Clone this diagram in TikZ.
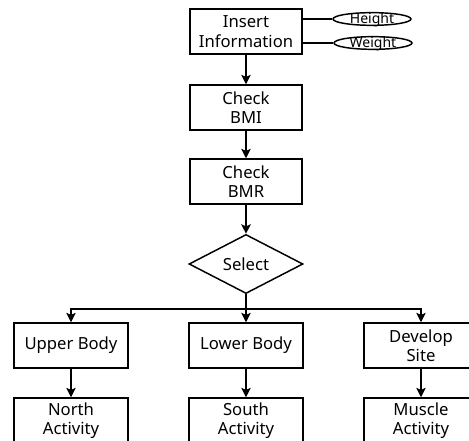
\documentclass[tikz,border=0pt]{standalone}
\usepackage{fontspec}
\setmainfont{Noto Sans}
\usepackage{tikz}
\usetikzlibrary{shapes.geometric,arrows.meta}

\tikzset{
  procbox/.style={draw,line width=1.1pt,minimum width=84pt,minimum height=33.75pt,inner sep=1pt,align=center,font=\fontsize{12.5}{14.5}\selectfont},
  selbox/.style={draw,diamond,line width=1.1pt,minimum width=85.5pt,minimum height=44.25pt,inner sep=0pt,font=\fontsize{12.5}{14.5}\selectfont},
  attrib/.style={draw,ellipse,line width=1.1pt,minimum width=58.5pt,minimum height=9.5pt,inner xsep=0pt,inner ysep=-1pt,text height=7.5pt,text depth=0pt,font=\fontsize{10.5}{11}\selectfont},
  flow/.style={line width=1.3pt,-{Stealth[length=7pt,width=7pt,inset=1.5pt]}}
}

\begin{document}
\begin{tikzpicture}[x=0.75pt,y=0.75pt,yscale=-1,xscale=1]
\useasboundingbox (0,0) rectangle (469,441);
\clip (0,0) rectangle (469,441);

% Main column
\node[procbox] (ins) at (246,31.5) {Insert\\Information};
\node[procbox] (bmi) at (246,107.5) {Check\\BMI};
\node[procbox] (bmr) at (246,181.5) {Check\\BMR};
\node[selbox] (sel) at (246,264) {Select};

% Inputs
\node[attrib] (hgt) at (372,19) {Height};
\node[attrib] (wgt) at (373,43) {Weight};

% Branches
\node[procbox,minimum width=85.5pt] (upper) at (71,345.5) {Upper Body};
\node[procbox,minimum width=85.5pt] (lower) at (246,345.5) {Lower Body};
\node[procbox,minimum width=85.5pt] (devel) at (421,345.5) {Develop\\Site};
\node[procbox,minimum width=85.5pt] (north) at (71,420.5) {North\\Activity};
\node[procbox,minimum width=85.5pt] (south) at (246,420.5) {South\\Activity};
\node[procbox,minimum width=85.5pt] (muscle) at (421,420.5) {Muscle\\Activity};
\coordinate (fork) at (246,309);

% Connectors
\draw[line width=1.3pt] (hgt.west -| ins.east) -- (hgt.west);
\draw[line width=1.3pt] (wgt.west -| ins.east) -- (wgt.west);
\draw[flow] (ins) -- (bmi);
\draw[flow] (bmi) -- (bmr);
\draw[flow] (bmr) -- (sel);
\draw[flow] (sel) -- (lower);
\draw[flow] (fork) -| (upper);
\draw[flow] (fork) -| (devel);
\draw[flow] (upper) -- (north);
\draw[flow] (lower) -- (south);
\draw[flow] (devel) -- (muscle);
\end{tikzpicture}
\end{document}
